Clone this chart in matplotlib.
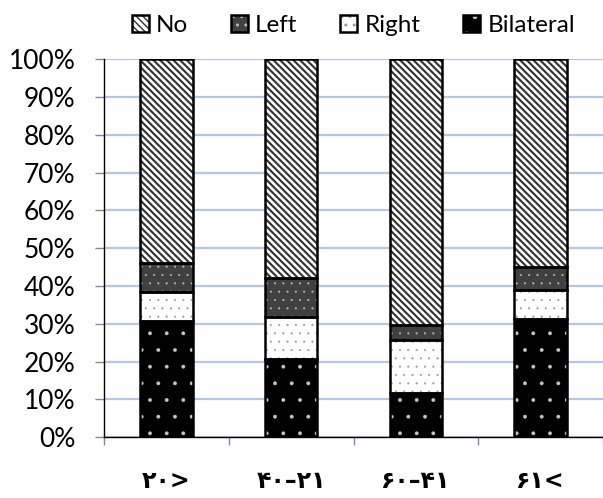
import matplotlib
matplotlib.use("Agg")
import matplotlib.pyplot as plt
import numpy as np
from matplotlib.ticker import PercentFormatter, FixedLocator

categories = ["۲۰>", "۴۰–۲۱", "۶۰–۴۱", "۶۱<"]
bilateral = [30.7, 20.6, 11.8, 31.2]
right = [7.6, 11.2, 14.0, 7.7]
left = [7.9, 10.4, 3.8, 6.1]
no = [100 - b - r - l for b, r, l in zip(bilateral, right, left)]
yticks = list(range(0, 101, 10))

plt.rcParams['font.family'] = ['Lato', 'DejaVu Sans']

fig = plt.figure(figsize=(6.03, 4.98), dpi=100)
ax = fig.add_axes([0.1725, 0.122, 0.8275, 0.759])

x = np.arange(len(categories))
w = 0.42
series = [
    ("Bilateral", bilateral, "black", "#c8c8c8", ".", 0.3),
    ("Right", right, "white", "#9a9a9a", "..", 0.3),
    ("Left", left, "#404040", "#b8b8b8", "..", 0.3),
    ("No", no, "white", "#303030", "\\\\\\\\\\", 1.5),
]
bottom = np.zeros(len(categories))
handles = {}
for name, vals, face, hcol, hatch, hlw in series:
    vals = np.array(vals)
    with plt.rc_context({'hatch.linewidth': hlw}):
        b1 = ax.bar(x, vals, w, bottom=bottom, color=face, edgecolor=hcol,
                    hatch=hatch, linewidth=0, zorder=3)
    for p in b1.patches:
        if hasattr(p, "set_hatch_linewidth"):
            p.set_hatch_linewidth(hlw)
    b2 = ax.bar(x, vals, w, bottom=bottom, fill=False, edgecolor="black",
                linewidth=1.8, zorder=4)
    handles[name] = (b1.patches[0], b2.patches[0])
    bottom += vals

order = ["No", "Left", "Right", "Bilateral"]
leg = fig.legend([handles[n] for n in order], order, loc="upper center",
                 bbox_to_anchor=(0.586, 1.014), ncol=4, frameon=False,
                 fontsize=17.5, handlelength=0.7, handleheight=0.7,
                 handletextpad=0.3, columnspacing=1.75)

ax.set_xlim(-0.5, len(categories) - 0.5)
ax.set_ylim(0, 100)
ax.yaxis.set_major_locator(FixedLocator(yticks))
ax.yaxis.set_major_formatter(PercentFormatter(100, decimals=0))
ax.grid(axis="y", color="#b4c7e7", linewidth=1.6, zorder=0)
ax.set_axisbelow(True)
for s in ["top", "right"]:
    ax.spines[s].set_visible(False)
ax.spines["left"].set_color("black")
ax.spines["left"].set_linewidth(1.0)
ax.spines["bottom"].set_color("black")
ax.spines["bottom"].set_linewidth(1.0)

ax.set_xticks(x)
ax.set_xticklabels(categories, fontfamily=["DejaVu Sans"], fontweight="bold",
                   fontsize=17)
ax.set_xticks(np.arange(len(categories) + 1) - 0.5, minor=True)
ax.tick_params(axis="x", which="major", length=0, pad=23)
ax.tick_params(axis="x", which="minor", length=6, color="#888888", width=1)
ax.tick_params(axis="y", length=6.5, color="#888888", width=1, labelsize=19, pad=14)

fig.savefig("out.png", dpi=100)
